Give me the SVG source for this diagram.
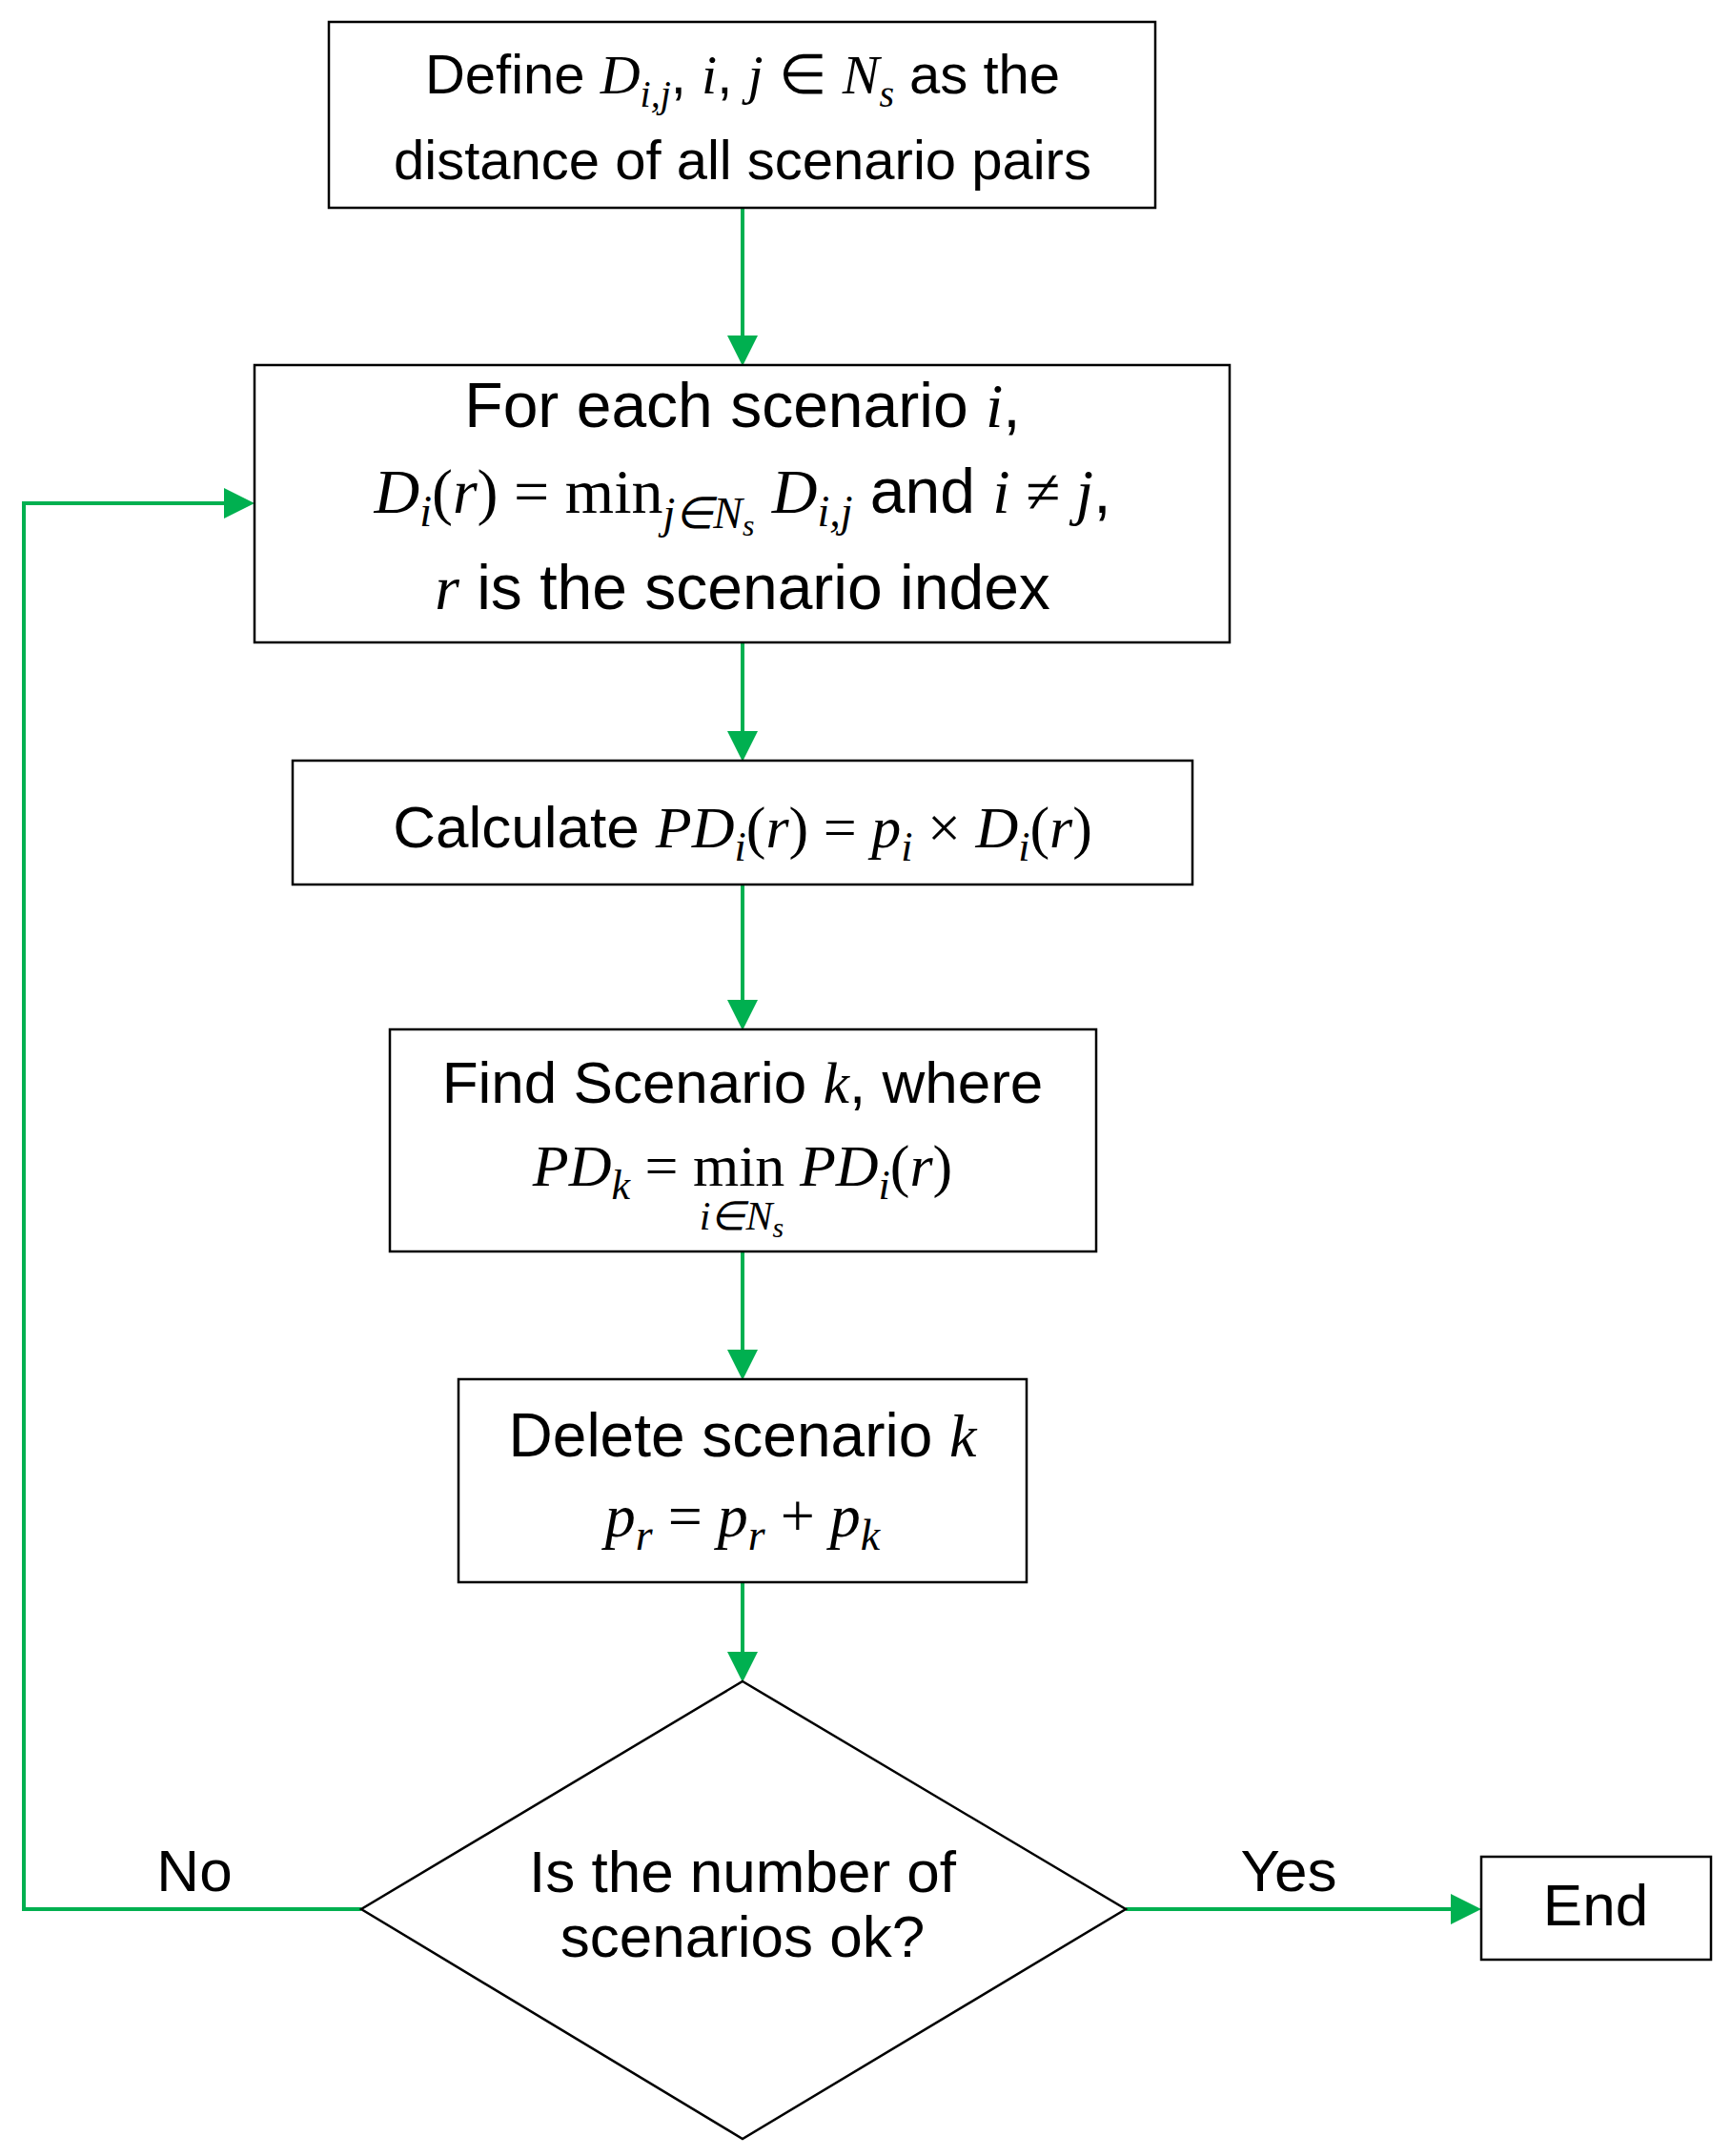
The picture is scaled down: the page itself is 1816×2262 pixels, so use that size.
<svg xmlns="http://www.w3.org/2000/svg" width="1816" height="2262" viewBox="0 0 1816 2262">
<style>
.box{fill:#fff;stroke:#000;stroke-width:2.5}
.t{font-family:"Liberation Sans",Arial,sans-serif;fill:#000;text-anchor:middle}
.m{font-family:"Liberation Serif","Times New Roman",serif;font-style:italic}
.r{font-family:"Liberation Serif","Times New Roman",serif;font-style:normal}
.c{fill:none;stroke:#00b050;stroke-width:4}
</style>
<defs><marker id="a" markerWidth="8" markerHeight="8" refX="7" refY="4" orient="auto" markerUnits="strokeWidth"><path d="M0,0 L8,4 L0,8 z" fill="#00b050"/></marker></defs>
<rect width="1816" height="2262" fill="#fff"/>
<g id="connectors">
<path class="c" d="M779,218 V380" marker-end="url(#a)"/>
<path class="c" d="M779,674 V795" marker-end="url(#a)"/>
<path class="c" d="M779,928 V1077" marker-end="url(#a)"/>
<path class="c" d="M779,1313 V1444" marker-end="url(#a)"/>
<path class="c" d="M779,1660 V1761" marker-end="url(#a)"/>
<path class="c" d="M1181,2003 H1550" marker-end="url(#a)"/>
<path class="c" d="M379,2003 H25 V528 H263" marker-end="url(#a)"/>
<text class="t" x="204" y="1984" font-size="62">No</text>
<text class="t" x="1352" y="1984" font-size="62">Yes</text>
</g>
<g id="n1"><rect class="box" x="345" y="23" width="867" height="195"/>
<text class="t" x="779" y="98" font-size="58">Define <tspan class="m">D</tspan><tspan class="m" font-size="40" dy="14">i,j</tspan><tspan dy="-14">, </tspan><tspan class="m">i</tspan>, <tspan class="m">j</tspan> ∈ <tspan class="m">N</tspan><tspan class="m" font-size="40" dy="14">s</tspan><tspan dy="-14"> as the</tspan></text>
<text class="t" x="779" y="188" font-size="58">distance of all scenario pairs</text></g>
<g id="n2"><rect class="box" x="267" y="383" width="1023" height="291"/>
<text class="t" x="779" y="448" font-size="66">For each scenario <tspan class="m">i</tspan>,</text>
<text class="t" x="779" y="538" font-size="66"><tspan class="m">D</tspan><tspan class="m" font-size="46" dy="14">i</tspan><tspan class="r" dy="-14">(</tspan><tspan class="m">r</tspan><tspan class="r">) = min</tspan><tspan class="m" font-size="46" dy="16">j∈N</tspan><tspan class="m" font-size="32" dy="8">s</tspan><tspan dy="-24"> </tspan><tspan class="m">D</tspan><tspan class="m" font-size="46" dy="14">i,j</tspan><tspan dy="-14"> and </tspan><tspan class="m">i</tspan><tspan class="r"> ≠ </tspan><tspan class="m">j</tspan>,</text>
<text class="t" x="779" y="639" font-size="66"><tspan class="m">r</tspan> is the scenario index</text></g>
<g id="n3"><rect class="box" x="307" y="798" width="944" height="130"/>
<text class="t" x="779" y="889" font-size="62">Calculate <tspan class="m">PD</tspan><tspan class="m" font-size="44" dy="14">i</tspan><tspan class="r" dy="-14">(</tspan><tspan class="m">r</tspan><tspan class="r">) = </tspan><tspan class="m">p</tspan><tspan class="m" font-size="44" dy="14">i</tspan><tspan class="r" dy="-14"> × </tspan><tspan class="m">D</tspan><tspan class="m" font-size="44" dy="14">i</tspan><tspan class="r" dy="-14">(</tspan><tspan class="m">r</tspan><tspan class="r">)</tspan></text></g>
<g id="n4"><rect class="box" x="409" y="1080" width="741" height="233"/>
<text class="t" x="779" y="1157" font-size="62">Find Scenario <tspan class="m">k</tspan>, where</text>
<text class="t" x="779" y="1244" font-size="62"><tspan class="m">PD</tspan><tspan class="m" font-size="44" dy="14">k</tspan><tspan class="r" dy="-14"> = min </tspan><tspan class="m">PD</tspan><tspan class="m" font-size="44" dy="14">i</tspan><tspan class="r" dy="-14">(</tspan><tspan class="m">r</tspan><tspan class="r">)</tspan></text>
<text class="t m" x="778" y="1290" font-size="42">i∈N<tspan font-size="30" dy="8">s</tspan></text></g>
<g id="n5"><rect class="box" x="481" y="1447" width="596" height="213"/>
<text class="t" x="779" y="1528" font-size="64">Delete scenario <tspan class="m">k</tspan></text>
<text class="t" x="779" y="1612" font-size="64"><tspan class="m">p</tspan><tspan class="m" font-size="46" dy="14">r</tspan><tspan class="r" dy="-14"> = </tspan><tspan class="m">p</tspan><tspan class="m" font-size="46" dy="14">r</tspan><tspan class="r" dy="-14"> + </tspan><tspan class="m">p</tspan><tspan class="m" font-size="46" dy="14">k</tspan></text></g>
<g id="n6"><polygon class="box" points="779,1764 1181,2003 779,2244 379,2003"/>
<text class="t" x="779" y="1985" font-size="62">Is the number of</text>
<text class="t" x="779" y="2053" font-size="62">scenarios ok?</text></g>
<g id="n7"><rect class="box" x="1554" y="1948" width="241" height="108"/>
<text class="t" x="1674" y="2020" font-size="62">End</text></g>
</svg>
